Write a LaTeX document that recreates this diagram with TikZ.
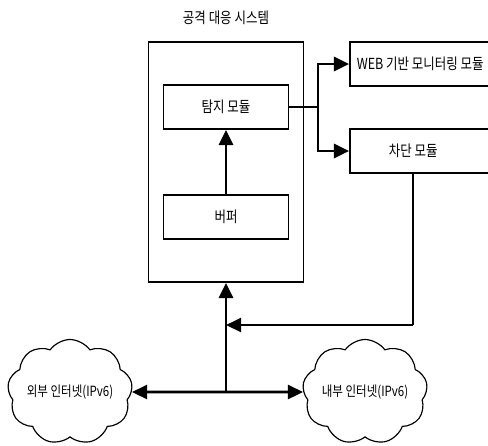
\documentclass[tikz,border=0pt]{standalone}
\usepackage{fontspec}
\setmainfont{Noto Sans CJK KR}[FakeStretch=0.82]
\usetikzlibrary{shapes.symbols,arrows.meta}

\tikzset{
	box/.style={draw, line width=1.4pt, rectangle, minimum width=3.75cm, minimum height=1.32cm},
	net/.style={draw, line width=1pt, cloud, cloud puffs=9, cloud puff arc=110, cloud ignores aspect, minimum width=3.75cm, minimum height=3.15cm, inner sep=0pt},
	arr/.style={line width=2.4pt, -{Triangle[length=13pt, width=12pt]}},
	biarr/.style={line width=2.4pt, {Triangle[length=13pt, width=12pt]}-{Triangle[length=13pt, width=12pt]}}
}

\begin{document}
\begin{tikzpicture}[x=0.03cm, y=-0.03cm, font=\fontsize{13}{15}\selectfont]
	\useasboundingbox (0,0) rectangle (488,445);

	\node (title) at (226, 18) {공격 대응 시스템};
	\node[box, minimum width=4.65cm, minimum height=7.2cm] (sys) at (226,162) {};
	\node[box] (detect) at (226,107) {탐지 모듈};
	\node[box] (buffer) at (226,217) {버퍼};
	\node[box, minimum width=4.35cm, label={[anchor=west, xshift=3pt]west:WEB 기반 모니터링 모듈}] (web) at (422.5, 64) {};
	\node[box, minimum width=4.35cm, label={[xshift=-0.28cm]center:차단 모듈}] (block) at (422.5,151) {};

	\node[net, label={[font=\fontsize{12}{14}\selectfont]center:외부 인터넷(IPv6)}] (outer) at (70,392) {};
	\node[net, label={[font=\fontsize{12}{14}\selectfont]center:내부 인터넷(IPv6)}] (inner) at (365,392) {};

	\coordinate (split) at (318,107);
	\coordinate (merge) at (226,325);
	\coordinate (bus) at (226,392);
	\coordinate (fb) at (413,325);

	\draw[arr] (buffer) -- (detect);
	\draw[line width=2.4pt] (detect.east) -- (split);
	\draw[arr] (split) |- (web.west);
	\draw[arr] (split) |- (block.west);
	\draw[line width=2.4pt] (fb |- block.south) -- (fb);
	\draw[arr] (fb) -- (merge);
	\draw[arr] (bus) -- (sys.south);
	\draw[biarr] (outer.east) -- (inner.west);
\end{tikzpicture}
\end{document}
